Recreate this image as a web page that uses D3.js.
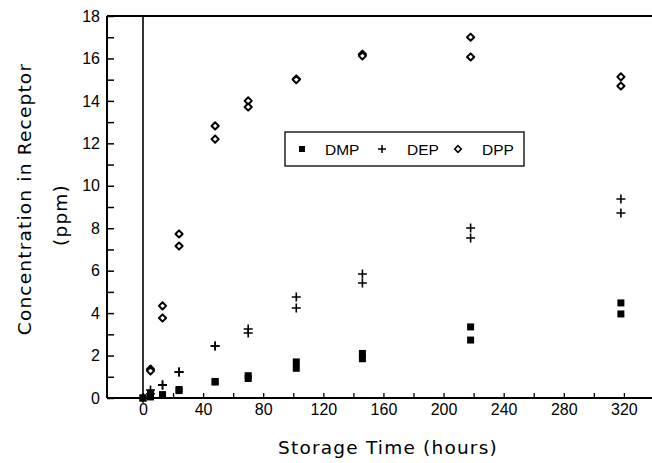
<!DOCTYPE html>
<html>
<head>
<meta charset="utf-8">
<script src="https://cdn.jsdelivr.net/npm/d3@7"></script>
<style>
  html, body { margin: 0; padding: 0; background: #fff; }
  svg { display: block; }
</style>
</head>
<body>
<svg id="chart" width="652" height="463"></svg>
<script>
// ---- data ----
const times = [0, 5, 13, 24, 48, 70, 102, 146, 218, 318];
const dmp1 = [0, 0.05, 0.15, 0.40, 0.75, 1.05, 1.70, 2.10, 3.35, 4.48];
const dmp2 = [0, 0.20, 0.15, 0.35, 0.78, 0.92, 1.40, 1.85, 2.73, 3.96];
const dep1 = [0, 0.38, 0.62, 1.22, 2.45, 3.25, 4.76, 5.84, 8.01, 9.38];
const dep2 = [0, 0.20, 0.60, 1.22, 2.45, 3.06, 4.24, 5.42, 7.54, 8.72];
const dpp1 = [0, 1.36, 4.34, 7.73, 12.82, 14.00, 15.03, 16.20, 17.00, 15.13];
const dpp2 = [0, 1.28, 3.77, 7.16, 12.20, 13.71, 15.00, 16.12, 16.07, 14.70];
const xTicks = d3.range(0, 340, 20);
const xLabels = [0, 40, 80, 120, 160, 200, 240, 280, 320];
const yTicks = d3.range(0, 19, 1);
const yLabels = [0, 2, 4, 6, 8, 10, 12, 14, 16, 18];
const seriesNames = ["DMP", "DEP", "DPP"];

// ---- layout ----
const svg = d3.select("#chart");
const L = 107, R = 652, T = 16, B = 398;
const x = d3.scaleLinear().domain([-23.95, 338.7]).range([L, R]);
const y = d3.scaleLinear().domain([0, 18]).range([B, T]);
const fontTick = "'Liberation Sans', Arial, sans-serif";
const fontTitle = "'DejaVu Sans', sans-serif";

// axes
const yAxis = d3.axisLeft(y).tickValues(yTicks).tickSizeInner(-7).tickSizeOuter(0).tickPadding(7)
  .tickFormat(d => yLabels.includes(d) ? d : "");
const gy = svg.append("g").attr("transform", `translate(${L},0)`).call(yAxis);
gy.select(".domain").remove();
gy.selectAll(".tick line").attr("stroke", "#000").attr("stroke-width", 1.5);
gy.selectAll(".tick text").attr("font-family", fontTick).attr("font-size", 16).attr("fill", "#000");

const xAxis = d3.axisBottom(x).tickValues(xTicks).tickSizeInner(-5).tickSizeOuter(0).tickPadding(6)
  .tickFormat(d => xLabels.includes(d) ? d : "");
const gx = svg.append("g").attr("transform", `translate(0,${B})`).call(xAxis);
gx.select(".domain").remove();
gx.selectAll(".tick line").attr("stroke", "#000").attr("stroke-width", 1.3);
gx.selectAll(".tick text").attr("font-family", fontTick).attr("font-size", 16).attr("fill", "#000");

// frame lines
svg.append("line").attr("x1", L).attr("x2", R).attr("y1", T).attr("y2", T).attr("stroke", "#000").attr("stroke-width", 2.2);
svg.append("line").attr("x1", L).attr("x2", R).attr("y1", B).attr("y2", B).attr("stroke", "#000").attr("stroke-width", 2.2);
svg.append("line").attr("x1", L).attr("x2", L).attr("y1", T).attr("y2", B).attr("stroke", "#000").attr("stroke-width", 2);
svg.append("line").attr("x1", x(0)).attr("x2", x(0)).attr("y1", T).attr("y2", B).attr("stroke", "#000").attr("stroke-width", 1.6);

// markers
function drawSquare(g, cx, cy) {
  g.append("rect").attr("x", cx - 3.5).attr("y", cy - 3.5).attr("width", 7).attr("height", 7).attr("fill", "#000");
}
function drawPlus(g, cx, cy) {
  g.append("path").attr("d", `M${cx-4.5},${cy}H${cx+4.5}M${cx},${cy-4.5}V${cy+4.5}`)
    .attr("stroke", "#000").attr("stroke-width", 1.6).attr("fill", "none");
}
function drawDiamond(g, cx, cy) {
  g.append("path").attr("d", `M${cx},${cy-3.6}L${cx+3.6},${cy}L${cx},${cy+3.6}L${cx-3.6},${cy}Z`)
    .attr("stroke", "#000").attr("stroke-width", 2).attr("fill", "#fff").attr("stroke-linejoin", "round");
}
const pts = svg.append("g");
const drawers = [drawSquare, drawPlus, drawDiamond];
const seriesData = [[dmp1, dmp2], [dep1, dep2], [dpp1, dpp2]];
[2, 1, 0].forEach(si => {
  seriesData[si].forEach(rep => {
    rep.forEach((v, i) => {
      if (si === 2 && times[i] === 0) return;
      drawers[si](pts, x(times[i]), y(v));
    });
  });
});

// legend
const lg = svg.append("g");
lg.append("rect").attr("x", 285).attr("y", 132).attr("width", 239).attr("height", 34)
  .attr("fill", "#fff").attr("stroke", "#000").attr("stroke-width", 1.3);
const legItems = [{mx: 302, tx: 325}, {mx: 382, tx: 407}, {mx: 458, tx: 482}];
seriesNames.forEach((name, i) => {
  const cy = 149;
  const mx = legItems[i].mx;
  if (i === 0) lg.append("rect").attr("x", mx - 3).attr("y", cy - 3).attr("width", 6).attr("height", 6).attr("fill", "#000");
  if (i === 1) lg.append("path").attr("d", `M${mx-4},${cy}H${mx+4}M${mx},${cy-4}V${cy+4}`).attr("stroke", "#000").attr("stroke-width", 1.5);
  if (i === 2) lg.append("path").attr("d", `M${mx},${cy-3.3}L${mx+3.3},${cy}L${mx},${cy+3.3}L${mx-3.3},${cy}Z`).attr("stroke", "#000").attr("stroke-width", 1.6).attr("fill", "#fff");
  lg.append("text").attr("x", legItems[i].tx).attr("y", cy).attr("dy", "0.36em")
    .attr("font-family", fontTick).attr("font-size", 15.5).text(name);
});

// titles
svg.append("text").attr("transform", "translate(25,199) rotate(-90)").attr("text-anchor", "middle")
  .attr("dy", "0.35em").attr("font-family", fontTitle).attr("font-size", 18.5).attr("letter-spacing", 1.2)
  .text("Concentration in Receptor");
svg.append("text").attr("transform", "translate(61,215) rotate(-90)").attr("text-anchor", "middle")
  .attr("dy", "0.35em").attr("font-family", fontTitle).attr("font-size", 18.5).attr("letter-spacing", 1.2)
  .text("(ppm)");
svg.append("text").attr("x", 388).attr("y", 448).attr("text-anchor", "middle").attr("dy", "0.35em")
  .attr("font-family", fontTitle).attr("font-size", 18.5).attr("letter-spacing", 1.2)
  .text("Storage Time (hours)");
</script>
</body>
</html>
